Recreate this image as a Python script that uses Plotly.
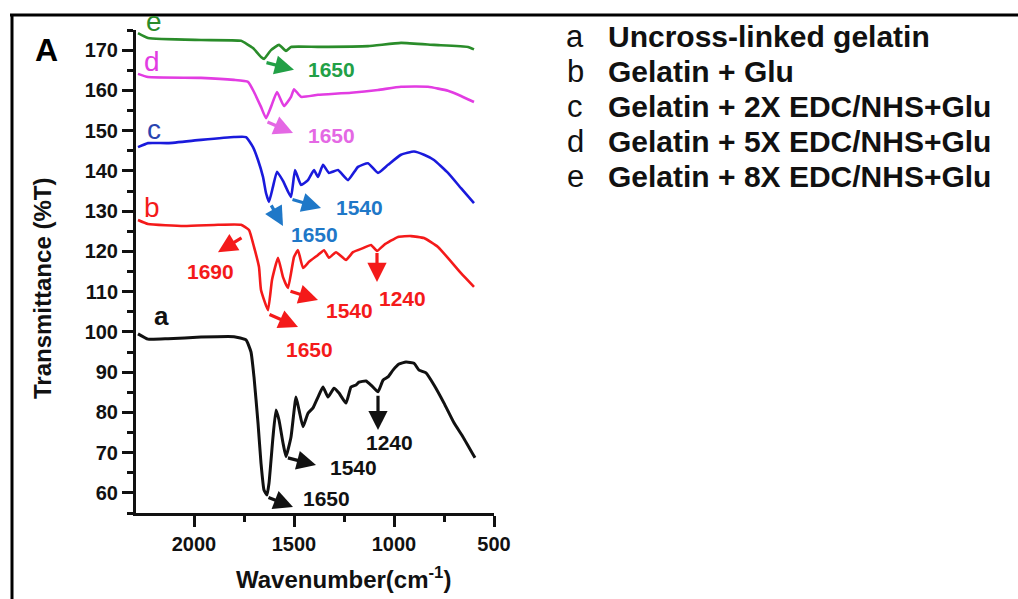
import plotly.graph_objects as go

# ---------------- data ----------------
wn_a = [2280, 2230, 2130, 1965, 1800, 1740, 1715, 1700, 1680, 1665, 1650, 1635, 1625, 1605, 1590, 1575,
        1555, 1540, 1515, 1490, 1475, 1455, 1430, 1405, 1380, 1355, 1330, 1300, 1275, 1240, 1215, 1190,
        1175, 1140, 1115, 1080, 1055, 1030, 1005, 975, 940, 900, 875, 840, 800, 750, 700, 655, 595]
t_a = [99.5, 98.2, 98.3, 98.7, 98.8, 98.0, 95.0, 88.8, 77.4, 67.4, 60.7, 59.5, 62.4, 73.9, 80.6, 78.1,
       72.4, 69.0, 73.9, 83.8, 80.6, 76.4, 79.8, 81.1, 83.8, 86.3, 83.8, 86.0, 84.8, 82.3, 86.3, 86.8,
       87.5, 87.8, 86.8, 85.1, 88.0, 88.8, 90.5, 92.0, 92.5, 92.2, 90.5, 89.8, 86.8, 82.3, 77.4, 73.9, 68.7]

wn_b = [2280, 2230, 2050, 1880, 1765, 1725, 1700, 1675, 1665, 1630, 1610, 1580, 1555, 1530, 1500, 1480,
        1455, 1425, 1380, 1350, 1325, 1290, 1240, 1205, 1155, 1115, 1085, 1050, 980, 915, 850, 780, 665, 600]
t_b = [127.8, 126.8, 126.3, 126.6, 126.6, 125.3, 121.1, 116.1, 110.4, 105.4, 112.9, 118.4, 113.6, 110.9,
       118.6, 120.3, 115.9, 117.4, 119.1, 120.3, 118.4, 119.8, 117.9, 119.8, 120.8, 121.6, 120.1, 121.6,
       123.6, 123.8, 123.3, 121.1, 114.6, 111.2]

wn_c = [2280, 2230, 2130, 1965, 1800, 1740, 1705, 1680, 1655, 1640, 1625, 1605, 1585, 1555, 1515, 1495,
        1465, 1430, 1400, 1380, 1355, 1325, 1280, 1230, 1180, 1130, 1080, 1030, 965, 900, 850, 800, 730,
        665, 600]
t_c = [145.9, 146.9, 146.9, 147.7, 148.4, 148.4, 145.9, 142.7, 138.5, 134.5, 132.3, 136.1, 139.8, 137.5,
       133.5, 140.2, 136.5, 137.7, 140.2, 138.5, 141.5, 139.5, 140.2, 137.7, 141.0, 141.9, 139.5, 141.5,
       144.0, 144.8, 144.0, 142.7, 139.5, 135.7, 132.0]

wn_d = [2280, 2230, 1965, 1800, 1730, 1700, 1665, 1640, 1615, 1585, 1550, 1515, 1500, 1465, 1380, 1215,
        1080, 965, 830, 730, 665, 600]
t_d = [164.1, 163.3, 163.1, 162.6, 162.1, 159.6, 155.9, 153.1, 155.9, 159.6, 156.1, 158.4, 160.3, 158.4,
       158.9, 159.4, 160.1, 160.9, 160.9, 159.9, 158.6, 157.1]

wn_e = [2280, 2230, 1965, 1765, 1705, 1665, 1650, 1615, 1575, 1540, 1515, 1380, 1130, 965, 800, 630, 600]
t_e = [174.2, 173.0, 172.5, 172.3, 170.5, 168.3, 167.8, 170.0, 171.3, 169.8, 170.8, 170.8, 171.0, 171.8,
       171.3, 170.8, 170.2]

series_letters = ["a", "b", "c", "d", "e"]
legend_texts = ["Uncross-linked gelatin", "Gelatin + Glu", "Gelatin + 2X EDC/NHS+Glu",
                "Gelatin + 5X EDC/NHS+Glu", "Gelatin + 8X EDC/NHS+Glu"]
line_colors = ["#111111", "#f41a1a", "#1a1adc", "#e23ce2", "#2a8c2a"]
label_colors = ["#111111", "#f41a1a", "#1f78c8", "#e468e4", "#22a046"]

x_ticks = [2000, 1500, 1000, 500]
x_minor = [1750, 1250, 750]

# peak annotations: (label, series index, tail x, tail y, head x, head y, label x, label y)
peaks = [
    ("1650", 4, 1645, 167.0, 1500, 165.1, 1315, 165.1),
    ("1650", 3, 1640, 152.3, 1505, 149.4, 1315, 148.9),
    ("1650", 2, 1618, 131.8, 1555, 126.3, 1400, 124.1),
    ("1540", 2, 1515, 133.0, 1365, 130.8, 1175, 130.8),
    ("1690", 1, 1755, 123.6, 1880, 119.8, 1920, 114.9),
    ("1540", 1, 1525, 110.2, 1380, 107.9, 1225, 105.4),
    ("1240", 1, 1085, 120.0, 1085, 112.4, 960, 108.4),
    ("1650", 1, 1630, 104.5, 1480, 101.2, 1425, 95.5),
    ("1540", 0, 1538, 68.8, 1390, 66.9, 1205, 66.4),
    ("1650", 0, 1635, 59.0, 1505, 56.5, 1340, 58.5),
    ("1240", 0, 1080, 84.5, 1080, 75.6, 1025, 72.6),
]

# ---------------- layout helpers ----------------
W, H = 1018, 599
L, R, T, B = 136, 494, 30, 513


def xp(px):
    return (px - L) / (R - L)


def yp(py):
    return (B - py) / (B - T)


FONT = "Liberation Sans, Arial, sans-serif"

fig = go.Figure()
all_wn = [wn_a, wn_b, wn_c, wn_d, wn_e]
all_t = [t_a, t_b, t_c, t_d, t_e]
for i in range(5):
    fig.add_trace(go.Scatter(x=all_wn[i], y=all_t[i], mode="lines",
                             line=dict(color=line_colors[i], width=3 if i == 0 else 2.6,
                                       shape="spline", smoothing=0.4),
                             showlegend=False, hoverinfo="skip"))

annotations = []
for lab, si, tx, ty, hx, hy, lx, ly in peaks:
    annotations.append(dict(x=hx, y=hy, ax=tx, ay=ty, xref="x", yref="y", axref="x", ayref="y",
                            text="", showarrow=True, arrowhead=2, arrowsize=1.2, arrowwidth=3.2,
                            arrowcolor=label_colors[si], standoff=0, startstandoff=0))
    annotations.append(dict(x=lx, y=ly, xref="x", yref="y", text="<b>%s</b>" % lab, showarrow=False,
                            font=dict(family=FONT, size=21, color=label_colors[si]),
                            xanchor="center", yanchor="middle"))

# curve letters
letter_pos = [(161, 316), (152, 208), (154, 129), (152, 62), (154, 22)]
for i, (px, py) in enumerate(letter_pos):
    annotations.append(dict(x=xp(px), y=yp(py), xref="paper", yref="paper",
                            text=("<b>a</b>" if i == 0 else series_letters[i]), showarrow=False,
                            font=dict(family=FONT, size=28 if i else 26,
                                      color=line_colors[i] if i != 2 else "#2a44b0"),
                            xanchor="center", yanchor="middle"))

# legend-like text block
for i in range(5):
    py = [36, 71, 106, 141, 176][i]
    annotations.append(dict(x=xp(575), y=yp(py), xref="paper", yref="paper", text=series_letters[i],
                            showarrow=False, font=dict(family=FONT, size=31, color="#111111"),
                            xanchor="center", yanchor="middle"))
    annotations.append(dict(x=xp(606), y=yp(py), xref="paper", yref="paper",
                            text="<b>%s</b>" % legend_texts[i], showarrow=False,
                            font=dict(family=FONT, size=30, color="#111111"),
                            xanchor="left", yanchor="middle"))

# panel label and axis titles
annotations.append(dict(x=xp(46), y=yp(50), xref="paper", yref="paper", text="<b>A</b>", showarrow=False,
                        font=dict(family=FONT, size=32, color="#000000"), xanchor="center", yanchor="middle"))
annotations.append(dict(x=xp(43), y=yp(289), xref="paper", yref="paper", text="<b>Transmittance (%T)</b>",
                        showarrow=False, textangle=-90, font=dict(family=FONT, size=24, color="#111111"),
                        xanchor="center", yanchor="middle"))
annotations.append(dict(x=xp(343), y=yp(578), xref="paper", yref="paper",
                        text="<b>Wavenumber(cm<sup>-1</sup>)</b>", showarrow=False,
                        font=dict(family=FONT, size=24, color="#111111"), xanchor="center", yanchor="middle"))

shapes = [
    dict(type="line", xref="paper", yref="paper", x0=xp(10), x1=xp(1030), y0=yp(15), y1=yp(15),
         line=dict(color="#000000", width=3)),
    dict(type="line", xref="paper", yref="paper", x0=xp(12), x1=xp(12), y0=yp(14), y1=yp(610),
         line=dict(color="#000000", width=3)),
]

fig.update_layout(
    width=W, height=H,
    margin=dict(l=L, r=W - R, t=T, b=H - B, pad=0),
    paper_bgcolor="white", plot_bgcolor="white",
    annotations=annotations, shapes=shapes,
    xaxis=dict(range=[2290, 500], tickvals=x_ticks, ticktext=[str(v) for v in x_ticks],
               showline=True, linecolor="#111111", linewidth=3, ticks="outside", ticklen=11, tickwidth=2.5,
               tickcolor="#111111", showgrid=False, zeroline=False,
               tickfont=dict(family=FONT, size=20, color="#111111", weight="bold"),
               minor=dict(tickvals=x_minor, ticks="outside", ticklen=6, tickwidth=2.5, tickcolor="#111111")),
    yaxis=dict(range=[55, 175], tickvals=list(range(60, 171, 10)),
               showline=True, linecolor="#111111", linewidth=3, ticks="outside", ticklen=11, tickwidth=2.5,
               tickcolor="#111111", showgrid=False, zeroline=False,
               tickfont=dict(family=FONT, size=20, color="#111111", weight="bold"),
               minor=dict(dtick=5, tick0=0, ticks="outside", ticklen=6, tickwidth=2.5, tickcolor="#111111",
                          showgrid=False)),
)

fig.write_html("out.html")
